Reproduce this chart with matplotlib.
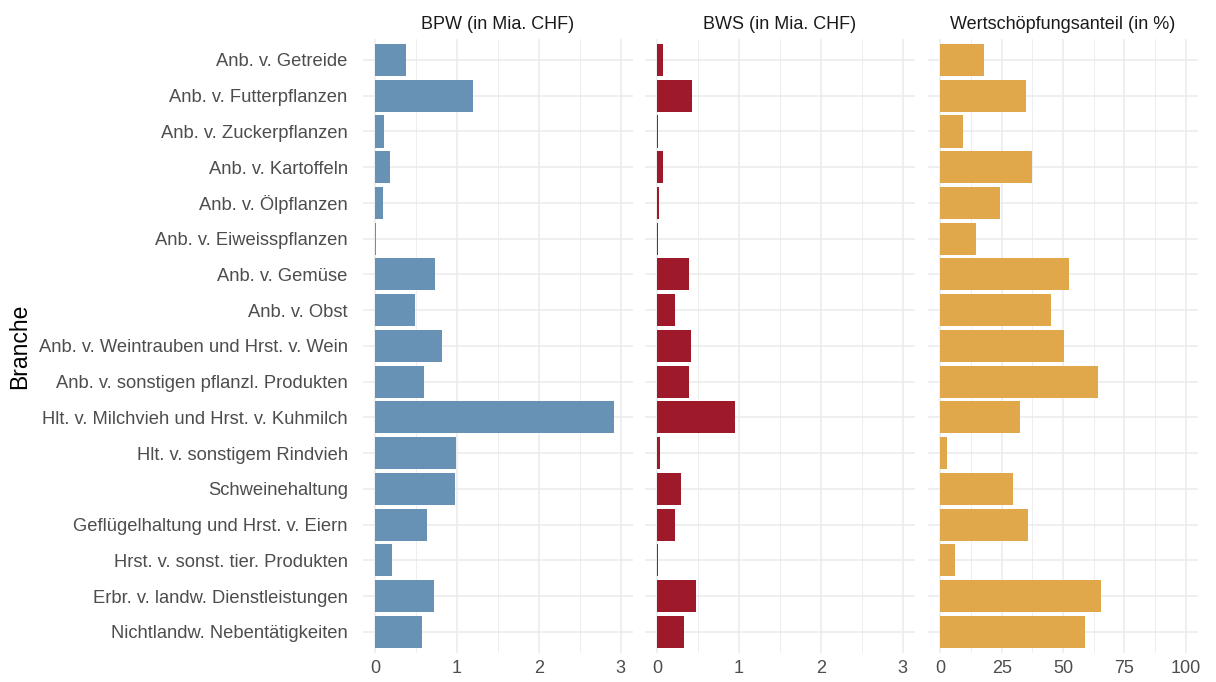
import numpy as np
import matplotlib
matplotlib.use("Agg")
import matplotlib.pyplot as plt
from matplotlib.ticker import MultipleLocator

plt.rcParams['font.family'] = ['Liberation Sans', 'DejaVu Sans']

branchen = [
    "Anb. v. Getreide",
    "Anb. v. Futterpflanzen",
    "Anb. v. Zuckerpflanzen",
    "Anb. v. Kartoffeln",
    "Anb. v. Ölpflanzen",
    "Anb. v. Eiweisspflanzen",
    "Anb. v. Gemüse",
    "Anb. v. Obst",
    "Anb. v. Weintrauben und Hrst. v. Wein",
    "Anb. v. sonstigen pflanzl. Produkten",
    "Hlt. v. Milchvieh und Hrst. v. Kuhmilch",
    "Hlt. v. sonstigem Rindvieh",
    "Schweinehaltung",
    "Geflügelhaltung und Hrst. v. Eiern",
    "Hrst. v. sonst. tier. Produkten",
    "Erbr. v. landw. Dienstleistungen",
    "Nichtlandw. Nebentätigkeiten",
]

bpw = [0.38, 1.20, 0.11, 0.18, 0.09, 0.01, 0.73, 0.48, 0.81, 0.60,
       2.92, 0.99, 0.97, 0.63, 0.20, 0.72, 0.57]
bws = [0.065, 0.43, 0.01, 0.065, 0.02, 0.005, 0.39, 0.22, 0.41, 0.39,
       0.95, 0.03, 0.29, 0.22, 0.01, 0.47, 0.33]
anteil = [17.8, 35.0, 9.4, 37.4, 24.3, 14.7, 52.4, 45.1, 50.5, 64.2,
          32.6, 2.6, 29.7, 35.9, 5.8, 65.4, 58.9]

titel = ["BPW (in Mia. CHF)", "BWS (in Mia. CHF)", "Wertschöpfungsanteil (in %)"]
farben = ["#6892B5", "#9E1A2A", "#E0A84B"]
werte = [bpw, bws, anteil]
limits = [(0, 3), (0, 3), (0, 100)]
major = [1, 1, 25]

W, H = 1216, 682
fig = plt.figure(figsize=(W / 100, H / 100), dpi=100)

panel_left = [363, 645, 928]
panel_w = 270
top, bottom = 38.5, 653.3
y = np.arange(len(branchen))

for i in range(3):
    ax = fig.add_axes([panel_left[i] / W, (H - bottom) / H,
                       panel_w / W, (bottom - top) / H])
    lo, hi = limits[i]
    pad = (hi - lo) * 0.05
    ax.barh(y, werte[i], height=0.9, color=farben[i], linewidth=0, zorder=3)
    ax.set_xlim(lo - pad, hi + pad)
    ax.set_ylim(len(branchen) - 0.4, -0.6)
    ax.xaxis.set_major_locator(MultipleLocator(major[i]))
    ax.xaxis.set_minor_locator(MultipleLocator(major[i] / 2))
    ax.set_yticks(y)
    ax.grid(True, which="major", color="#EBEBEB", linewidth=1.1, zorder=0)
    ax.grid(True, which="minor", axis="x", color="#EBEBEB", linewidth=0.6, zorder=0)
    ax.set_axisbelow(True)
    for s in ax.spines.values():
        s.set_visible(False)
    ax.tick_params(which="both", length=0)
    ax.tick_params(axis="x", labelsize=13, labelcolor="#4D4D4D", pad=5)
    if i == 0:
        ax.set_yticklabels(branchen, fontsize=13.2, color="#4D4D4D")
        ax.tick_params(axis="y", pad=11)
    else:
        ax.set_yticklabels([])
    ax.set_title(titel[i], fontsize=13, color="#1A1A1A", pad=7)

fig.text(20 / W, 1 - ((top + bottom) / 2) / H, "Branche", rotation=90,
         fontsize=16.5, color="black", ha="center", va="center")

fig.savefig("out.png", dpi=100, facecolor="white")
